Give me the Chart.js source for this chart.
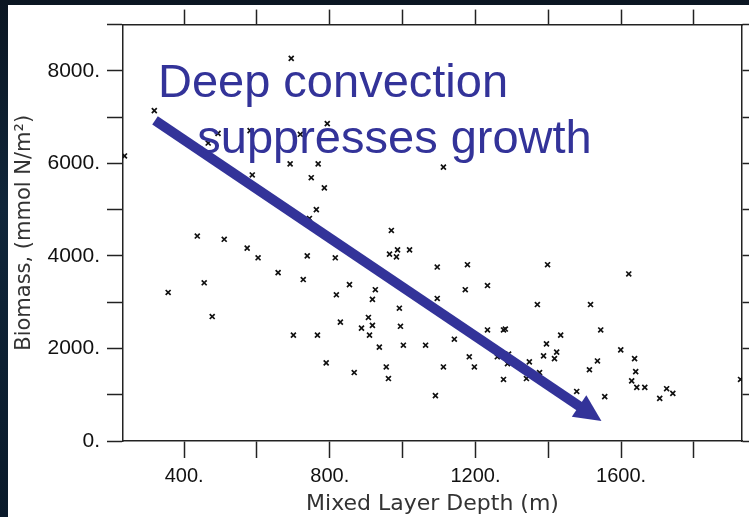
<!DOCTYPE html>
<html>
<head>
<meta charset="utf-8">
<script src="https://cdn.jsdelivr.net/npm/chart.js@4"></script>
<style>
  html, body { margin: 0; padding: 0; }
  body { width: 749px; height: 517px; overflow: hidden; position: relative;
         background: linear-gradient(180deg, #0b1622 0%, #10263a 40%, #0a1a2a 100%); }
  #wrap { position: absolute; left: 8px; top: 5px; width: 741px; height: 512px; background: #fff; }
</style>
</head>
<body>
<div id="wrap"><canvas id="chart" width="741" height="512"></canvas></div>
<script>
// mixed layer depth (m) and biomass (mmol N/m2), one entry per cross
const mixedLayerDepth = [
  694, 318, 493, 466, 581, 719, 793, 236, 691, 768,
  587, 749, 785, 763, 744, 969, 1112, 436, 510, 573,
  603, 738, 815, 964, 986, 1019, 983, 658, 455, 356,
  477, 727, 854, 818, 925, 917, 991, 906, 917, 887,
  829, 909, 994, 700, 766, 936, 1002, 1063, 790, 867,
  955, 961, 1090, 1095, 1178, 1398, 1172, 1233, 1095, 1370,
  1516, 1233, 1277, 1282, 1142, 1434, 1395, 1423, 1387, 1417,
  1183, 1260, 1291, 1288, 1348, 1376, 1112, 1197, 1277, 1340,
  1478, 1621, 1544, 1599, 1637, 1535, 1513, 1640, 1629, 1643,
  1665, 1555, 1725, 1742, 1706, 1928
];
const biomass = [
  8270, 7140, 6650, 6440, 6710, 6630, 6860, 6160, 5990, 5990,
  5750, 5690, 5470, 5000, 4810, 4550, 5920, 4430, 4360, 4170,
  3960, 4000, 3960, 4040, 4130, 4130, 3980, 3640, 3420, 3210,
  2690, 3490, 3380, 3160, 3270, 3060, 2870, 2670, 2500, 2440,
  2570, 2290, 2480, 2290, 2290, 2030, 2070, 2070, 1690, 1480,
  1600, 1350, 980, 3760, 3810, 3810, 3270, 3360, 3080, 2950,
  2950, 2400, 2400, 2420, 2200, 2290, 2100, 1920, 1840, 1780,
  1820, 1820, 1880, 1670, 1710, 1480, 1600, 1600, 1330, 1350,
  1070, 3610, 2400, 1970, 1780, 1730, 1540, 1500, 1300, 1160,
  1160, 960, 1130, 1030, 920, 1330
];

const xRange = [232, 1932];
const yRange = [0, 9000];
const xTickValues = [400, 600, 800, 1000, 1200, 1400, 1600, 1800];
const xTickLabels = [400, 800, 1200, 1600];
const yTickValues = [0, 1000, 2000, 3000, 4000, 5000, 6000, 7000, 8000, 9000];
const yTickLabels = [0, 2000, 4000, 6000, 8000];

// annotation, in data units
const arrowFrom = [320, 6930];
const arrowTo = [1546, 430];
const noteLines = ['Deep convection', 'suppresses growth'];
const noteAnchors = [[328, 7440], [436, 6222]];

const noteColor = '#333399';
const axisColor = '#222';

const points = mixedLayerDepth.map((d, i) => ({ x: d, y: biomass[i] }));

const notePlugin = {
  id: 'note',
  afterDatasetsDraw(chart) {
    const { ctx, scales: { x, y } } = chart;
    const x0 = x.getPixelForValue(arrowFrom[0]), y0 = y.getPixelForValue(arrowFrom[1]);
    const x1 = x.getPixelForValue(arrowTo[0]), y1 = y.getPixelForValue(arrowTo[1]);
    const a = Math.atan2(y1 - y0, x1 - x0);
    const c = Math.cos(a), s = Math.sin(a);
    const headLen = 27, headHalf = 13;
    const bx = x1 - headLen * c, by = y1 - headLen * s;
    ctx.save();
    ctx.strokeStyle = noteColor;
    ctx.fillStyle = noteColor;
    ctx.lineWidth = 10;
    ctx.lineCap = 'butt';
    ctx.beginPath();
    ctx.moveTo(x0, y0);
    ctx.lineTo(bx + 2 * c, by + 2 * s);
    ctx.stroke();
    ctx.beginPath();
    ctx.moveTo(x1, y1);
    ctx.lineTo(bx - headHalf * s, by + headHalf * c);
    ctx.lineTo(bx + headHalf * s, by - headHalf * c);
    ctx.closePath();
    ctx.fill();

    ctx.font = '47px "Liberation Sans", Arial, sans-serif';
    ctx.textAlign = 'left';
    ctx.textBaseline = 'alphabetic';
    noteLines.forEach((t, i) => {
      ctx.fillText(t, x.getPixelForValue(noteAnchors[i][0]), y.getPixelForValue(noteAnchors[i][1]));
    });
    ctx.restore();
  }
};

const xTickFont = { family: '"Liberation Sans", Arial, sans-serif', size: 20 };
const yTickFont = { family: '"Liberation Sans", Arial, sans-serif', size: 21 };
const titleFont = { family: '"DejaVu Sans", sans-serif', size: 22 };

new Chart(document.getElementById('chart'), {
  type: 'scatter',
  data: {
    datasets: [{
      data: points,
      pointStyle: 'crossRot',
      pointRadius: 3.5,
      pointBorderWidth: 1.7,
      borderColor: '#111',
      backgroundColor: '#111',
      clip: 0
    }]
  },
  options: {
    responsive: false,
    animation: false,
    devicePixelRatio: 1,
    layout: { padding: 0 },
    plugins: { legend: { display: false }, tooltip: { enabled: false } },
    scales: {
      x: {
        type: 'linear',
        position: 'bottom',
        min: xRange[0], max: xRange[1],
        afterBuildTicks: sc => { sc.ticks = xTickValues.map(v => ({ value: v })); },
        afterFit: sc => { sc.height = 76; },
        ticks: {
          callback: v => xTickLabels.includes(v) ? v + '.' : '',
          font: xTickFont, color: '#111', padding: 6, maxRotation: 0, autoSkip: false
        },
        grid: { drawOnChartArea: false, tickLength: 17, tickColor: axisColor, tickWidth: 1.5 },
        border: { color: axisColor, width: 1.5 },
        title: { display: true, text: 'Mixed Layer Depth (m)', font: titleFont, color: '#333', padding: { top: 0, bottom: 0 } }
      },
      x2: {
        type: 'linear',
        axis: 'x',
        position: 'top',
        min: xRange[0], max: xRange[1],
        afterBuildTicks: sc => { sc.ticks = xTickValues.map(v => ({ value: v })); },
        afterFit: sc => { sc.height = 15; },
        ticks: { display: false },
        grid: { drawOnChartArea: false, tickLength: 15, tickColor: axisColor, tickWidth: 1.5 },
        border: { color: axisColor, width: 1.5 }
      },
      y: {
        type: 'linear',
        position: 'left',
        min: yRange[0], max: yRange[1],
        afterBuildTicks: sc => { sc.ticks = yTickValues.map(v => ({ value: v })); },
        afterFit: sc => { sc.width = 115; },
        ticks: {
          callback: v => yTickLabels.includes(v) ? v + '.' : '',
          font: yTickFont, color: '#111', padding: 7, autoSkip: false
        },
        grid: { drawOnChartArea: false, tickLength: 16, tickColor: axisColor, tickWidth: 1.5 },
        border: { color: axisColor, width: 1.5 },
        title: { display: true, text: 'Biomass, (mmol N/m²)', font: { family: titleFont.family, size: 21 }, color: '#333', padding: { top: 4, bottom: 0 } }
      },
      y2: {
        type: 'linear',
        axis: 'y',
        position: 'right',
        min: yRange[0], max: yRange[1],
        afterBuildTicks: sc => { sc.ticks = yTickValues.map(v => ({ value: v })); },
        afterFit: sc => { sc.width = 7; },
        ticks: { display: false },
        grid: { drawOnChartArea: false, tickLength: 7, tickColor: axisColor, tickWidth: 1.5 },
        border: { color: axisColor, width: 1.5 }
      }
    }
  },
  plugins: [notePlugin]
});
</script>
</body>
</html>
